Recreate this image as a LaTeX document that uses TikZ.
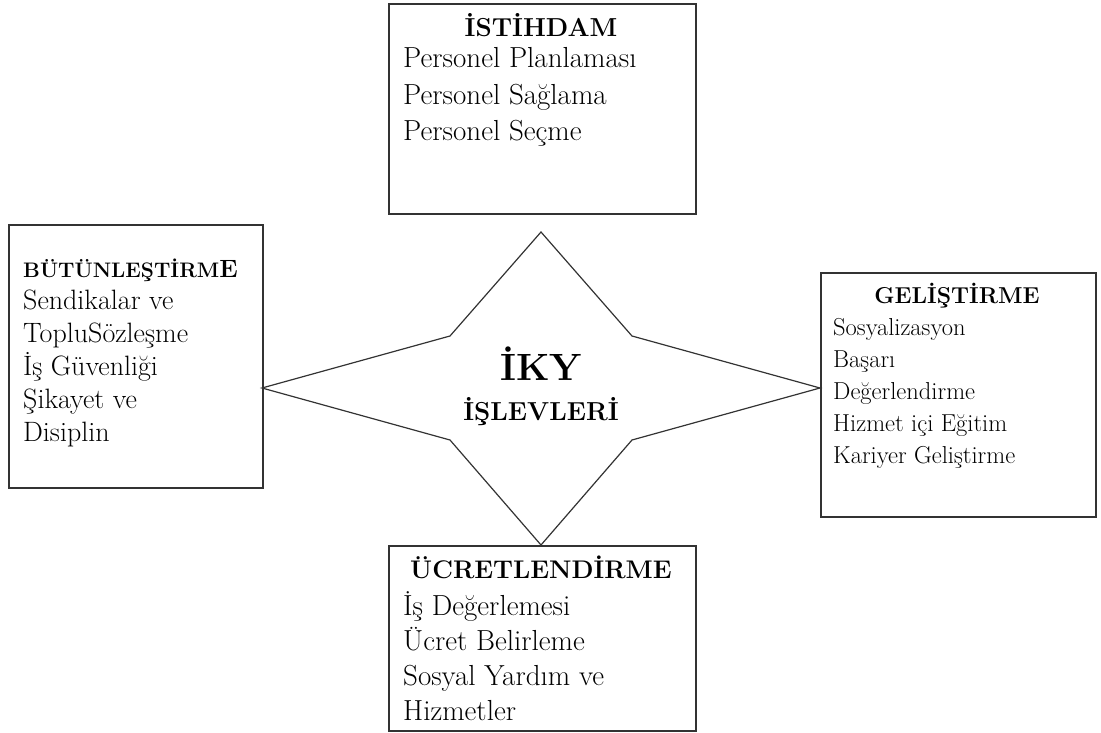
\documentclass[tikz,border=0pt]{standalone}
\tikzset{
  box/.style={draw=black!80, line width=1.6pt, anchor=north west, inner sep=0pt},
  boxhead/.style={anchor=base, inner sep=0pt, font=\fontsize{#1}{#1}\selectfont\bfseries},
  boxline/.style={anchor=base west, inner sep=0pt, font=\fontsize{#1}{#1}\selectfont},
  starline/.style={draw=black!80, line width=1.2pt, line join=miter},
}
\begin{document}
\begin{tikzpicture}[x=1pt,y=-1pt]
  \useasboundingbox (0,0) rectangle (1101,733);
  \pgfmathsetmacro{\cx}{541}
  \pgfmathsetmacro{\cy}{388}
  \draw[starline]
  (\cx,232) coordinate (n) -- (\cx+91,336) coordinate (ne) -- (820,\cy) coordinate (e) -- (\cx+91,440) coordinate (se) -- (\cx,545) coordinate (s) -- (\cx-91,440) coordinate (sw) -- (262,\cy) coordinate (w) -- (\cx-91,336) coordinate (nw) -- cycle;
  \node[boxhead=38] (iky) at (\cx,380) {İKY};
  \node[boxhead=26] (islevleri) at (\cx,420) {İŞLEVLERİ};

  \node[box, minimum width=307pt, minimum height=210pt] (istihdam) at (388,3) {};
  \node[boxhead=26] (istihdamhead) at (541,37) {İSTİHDAM};
  \foreach \txt [count=\i] in {Personel Planlaması, Personel Sağlama, Personel Seçme}
    \node[boxline=29] (istihdam\i) at (403,31.5+36.5*\i) {\txt};

  \node[box, minimum width=254pt, minimum height=263pt] (butunlestirme) at (8,224) {};
  \node[boxhead=21, anchor=base west] (butunlestirmehead) at (23,277) {BÜTÜNLEŞTİRM{\fontsize{25}{25}\selectfont E}};
  \foreach \txt [count=\i] in {Sendikalar ve, Toplu{}Sözleşme, İş Güvenliği, Şikayet ve, Disiplin}
    \node[boxline=28] (butunlestirme\i) at (23,276+33*\i) {\txt};

  \node[box, minimum width=275pt, minimum height=244pt] (gelistirme) at (820,272) {};
  \node[boxhead=23] (gelistirmehead) at (957,303) {GELİŞTİRME};
  \foreach \txt [count=\i] in {Sosyalizasyon, Başarı, Değerlendirme, Hizmet içi Eğitim, Kariyer Geliştirme}
    \node[boxline=24.5] (gelistirme\i) at (833,303+32*\i) {\txt};

  \node[box, minimum width=307pt, minimum height=185pt] (ucretlendirme) at (388,545) {};
  \node[boxhead=25.5] (ucretlendirmehead) at (541,578) {ÜCRETLENDİRME};
  \foreach \txt [count=\i] in {İş Değerlemesi, Ücret Belirleme, Sosyal Yardım ve, Hizmetler}
    \node[boxline=29] (ucretlendirme\i) at (403,580+35*\i) {\txt};
\end{tikzpicture}
\end{document}
